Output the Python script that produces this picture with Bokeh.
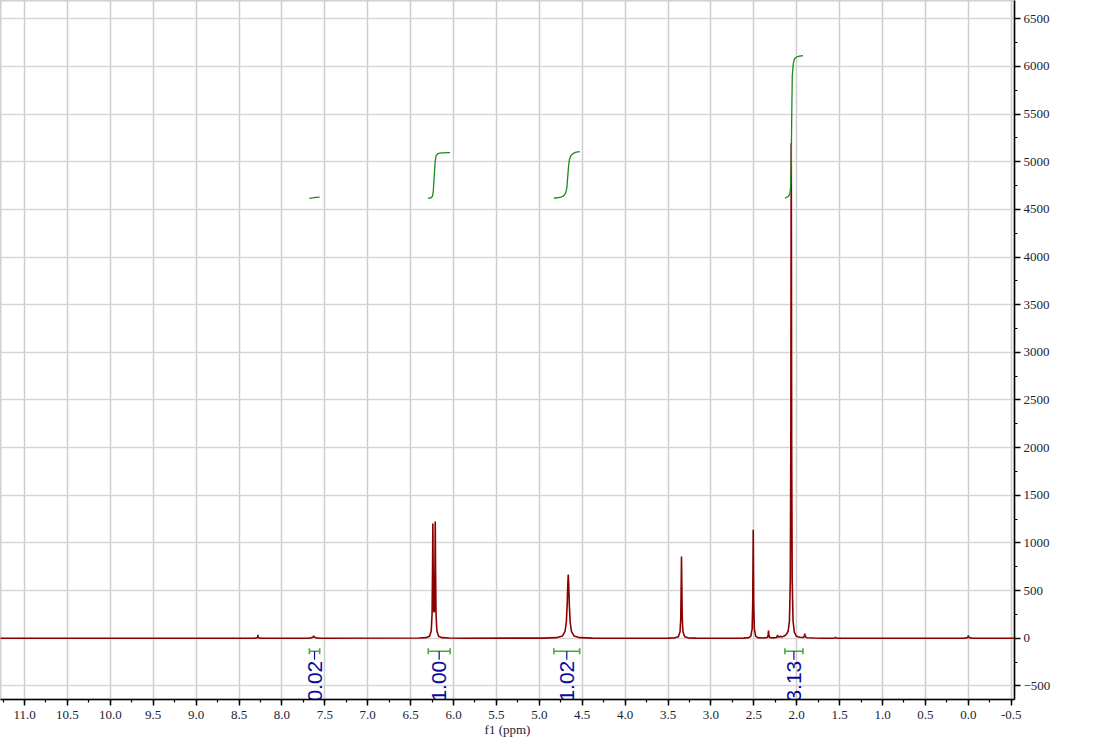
import numpy as np
from bokeh.plotting import figure
from bokeh.layouts import row
from bokeh.models import Range1d, SingleIntervalTicker, NumeralTickFormatter, Div
from bokeh.embed import file_html
from bokeh.resources import INLINE
from bokeh.core.properties import value

# ---- 1H NMR spectrum (ppm, intensity) ----
spectrum_ppm = [
    11.29, 8.32, 8.29, 8.283, 8.28, 8.277, 8.27, 8.24,
    7.70, 7.66, 7.64, 7.63, 7.62, 7.60, 7.56,
    6.40, 6.32, 6.28, 6.26, 6.25, 6.245, 6.241, 6.237, 6.232, 6.227, 6.222,
    6.217, 6.213, 6.209, 6.204, 6.194, 6.174, 6.134, 6.05, 5.90,
    4.95, 4.80, 4.73, 4.70, 4.685, 4.675, 4.669, 4.663, 4.657, 4.651, 4.641,
    4.626, 4.596, 4.526, 4.38, 4.10,
    3.50, 3.42, 3.38, 3.36, 3.352, 3.347, 3.343, 3.339, 3.334, 3.326, 3.306,
    3.266, 3.18, 3.00,
    2.62, 2.56, 2.535, 2.52, 2.513, 2.510, 2.507, 2.504, 2.501, 2.494, 2.479,
    2.454, 2.40, 2.35, 2.338, 2.333, 2.329, 2.325, 2.32, 2.305, 2.27,
    2.235, 2.228, 2.224, 2.22, 2.212, 2.20, 2.19, 2.18, 2.16, 2.14, 2.12,
    2.10, 2.085, 2.075, 2.069, 2.066, 2.064, 2.062, 2.059, 2.053, 2.043,
    2.028, 2.008, 1.99, 1.96, 1.93,
    1.915, 1.909, 1.906, 1.903, 1.897, 1.88, 1.80, 1.70,
    1.57, 1.552, 1.548, 1.544, 1.53,
    0.05, 0.01, 0.004, 0.0, -0.004, -0.01, -0.05, -0.54,
]
spectrum_intensity = [
    0, 0, 4, 12, 35, 12, 4, 0,
    0, 4, 11, 22, 11, 4, 0,
    2, 6, 21, 75, 258, 695, 1205, 698, 298, 270, 300,
    708, 1224, 691, 256, 75, 21, 6, 2, 0,
    1, 6, 24, 73, 173, 361, 550, 668, 550, 361, 173,
    73, 24, 6, 1, 0,
    1, 4, 15, 68, 202, 523, 857, 523, 202, 68, 15,
    4, 1, 0,
    1, 6, 23, 98, 350, 728, 1137, 728, 350, 98, 23,
    6, 3, 6, 13, 40, 81, 40, 13, 5, 4,
    8, 18, 35, 18, 12, 15, 22, 14, 18, 25, 42,
    73, 182, 608, 2026, 4155, 5194, 4155, 2026, 608, 182,
    63, 26, 16, 10, 8,
    15, 32, 49, 32, 12, 5, 2, 0,
    0, 4, 10, 4, 0,
    0, 6, 14, 28, 14, 6, 0, 0,
]

# ---- integral curves (ppm, running integral level) ----
int1_ppm = [7.68, 7.64, 7.60, 7.56]
int1_val = [4617, 4620, 4626, 4628]
int2_ppm = [6.295, 6.262, 6.245, 6.235, 6.225, 6.215, 6.205, 6.185, 6.14, 6.04]
int2_val = [4617, 4622, 4638, 4700, 4850, 4990, 5060, 5085, 5093, 5095]
int3_ppm = [4.83, 4.76, 4.72, 4.695, 4.68, 4.67, 4.66, 4.65, 4.635, 4.61, 4.57, 4.528]
int3_val = [4617, 4625, 4640, 4668, 4720, 4830, 4950, 5020, 5060, 5085, 5100, 5107]
int4_ppm = [2.138, 2.10, 2.08, 2.07, 2.064, 2.058, 2.052, 2.04, 2.026, 2.0, 1.975, 1.928]
int4_val = [4617, 4635, 4660, 4750, 5000, 5500, 5900, 6030, 6080, 6100, 6107, 6114]

# ---- integration regions and their labels ----
integral_labels = ["0.02", "1.00", "1.02", "3.13"]
integral_start = [7.68, 6.295, 4.83, 2.138]
integral_end = [7.56, 6.04, 4.53, 1.928]

p = figure(width=1103, height=746,
           x_range=Range1d(11.28, -0.538), y_range=Range1d(-643, 6692),
           output_backend="svg", toolbar_location=None,
           y_axis_location="right", x_axis_location="below",
           min_border_left=0, min_border_top=0,
           min_border_right=89, min_border_bottom=47)

p.outline_line_color = "#d0d0d0"
p.outline_line_width = 2
p.background_fill_color = "white"
p.border_fill_color = "white"

p.xgrid.grid_line_color = "#cdcdcd"
p.xgrid.grid_line_width = 1.5
p.ygrid.grid_line_color = "#d6d6d6"
p.ygrid.grid_line_width = 1.5

axis_font = "Liberation Serif"
xa = p.xaxis[0]
xa.ticker = SingleIntervalTicker(interval=0.5, num_minor_ticks=2)
xa.formatter = NumeralTickFormatter(format="0.0")
ya = p.yaxis[0]
ya.ticker = SingleIntervalTicker(interval=500, num_minor_ticks=2)
for ax in (xa, ya):
    ax.major_label_text_font = axis_font
    ax.major_label_text_font_size = "13px"
    ax.major_label_text_color = "#222233"
    ax.axis_line_color = "black"
    ax.axis_line_width = 1.5
    ax.major_tick_line_color = "black"
    ax.major_tick_line_width = 1.5
    ax.minor_tick_line_color = "black"
    ax.minor_tick_line_width = 1.2
    ax.major_tick_in = 0
    ax.major_tick_out = 6
    ax.minor_tick_in = 0
    ax.minor_tick_out = 3
xa.major_label_standoff = 5
ya.major_label_standoff = 3
xa.axis_label = "f1 (ppm)"
xa.axis_label_text_font = axis_font
xa.axis_label_text_font_size = "13px"
xa.axis_label_text_font_style = "normal"
xa.axis_label_text_color = "#222233"
xa.axis_label_standoff = 0

# spectrum
p.line(spectrum_ppm, spectrum_intensity, line_color="#8b0000", line_width=1.6)

# integral curves
for xs, ys in ((int1_ppm, int1_val), (int2_ppm, int2_val),
               (int3_ppm, int3_val), (int4_ppm, int4_val)):
    p.line(xs, ys, line_color="#1a8a1a", line_width=1.3)

# integral brackets
bar_y = -136
cap = 32
centers = [(a + b) / 2 for a, b in zip(integral_start, integral_end)]
n = len(integral_labels)
bracket_color = "#4aa84a"
label_color = "#0a0a9a"
p.segment(x0=integral_start, y0=[bar_y] * n, x1=integral_end, y1=[bar_y] * n,
          line_color=bracket_color, line_width=1.6)
p.segment(x0=integral_start, y0=[bar_y - cap] * n, x1=integral_start, y1=[bar_y + cap] * n,
          line_color=bracket_color, line_width=1.6)
p.segment(x0=integral_end, y0=[bar_y - cap] * n, x1=integral_end, y1=[bar_y + cap] * n,
          line_color=bracket_color, line_width=1.6)
p.segment(x0=centers, y0=[bar_y] * n, x1=centers, y1=[bar_y - 90] * n,
          line_color=label_color, line_width=1.2)
p.text(x=centers, y=[bar_y - 100] * n, text=integral_labels, angle=np.pi / 2,
       text_align="right", text_baseline="middle",
       text_font=value("Liberation Sans"), text_font_size="21px",
       text_color=label_color)

edge = Div(text='<div style="width:4px;height:754px;background:#3f4245"></div>',
           width=4, height=754)
layout = row(p, edge, spacing=0)

open("out.html", "w").write(file_html(layout, INLINE))
